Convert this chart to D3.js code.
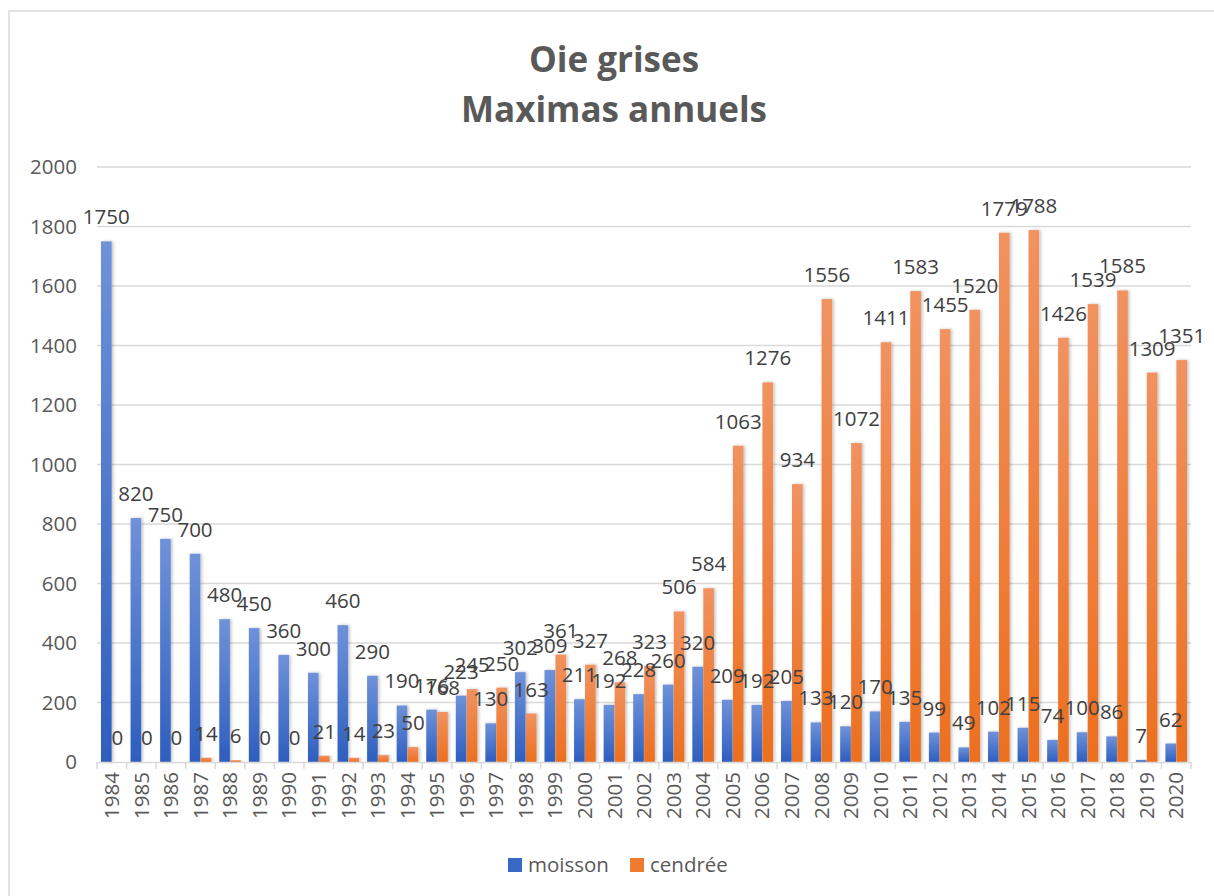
<!DOCTYPE html>
<html>
<head>
<meta charset="utf-8">
<script src="https://cdn.jsdelivr.net/npm/d3@7"></script>
<style>
  body { margin: 0; background: #fff; }
  svg text { font-family: "Open Sans", "Liberation Sans", sans-serif; }
</style>
</head>
<body>
<svg id="svg1" width="1214" height="896"></svg>
<script>
var years = ["1984","1985","1986","1987","1988","1989","1990","1991","1992","1993","1994","1995","1996","1997","1998","1999","2000","2001","2002","2003","2004","2005","2006","2007","2008","2009","2010","2011","2012","2013","2014","2015","2016","2017","2018","2019","2020"];
var moisson = [1750,820,750,700,480,450,360,300,460,290,190,176,223,130,302,309,211,192,228,260,320,209,192,205,133,120,170,135,99,49,102,115,74,100,86,7,62];
var cendree = [0,0,0,14,6,0,0,21,14,23,50,168,245,250,163,361,327,268,323,506,584,1063,1276,934,1556,1072,1411,1583,1455,1520,1779,1788,1426,1539,1585,1309,1351];
var seriesNames = ["moisson", "cendrée"];
var yTicks = [0,200,400,600,800,1000,1200,1400,1600,1800,2000];
var titleLines = ["Oie grises", "Maximas annuels"];

var svg = d3.select("#svg1");

// gradients for bars
var defs = svg.append("defs");
var grads = [["gBlue", "#6f92d9", "#2e5ebf"], ["gOrange", "#f19260", "#ec6f1f"]];
grads.forEach(function(g) {
  var lg = defs.append("linearGradient").attr("id", g[0])
    .attr("x1", 0).attr("y1", 0).attr("x2", 0).attr("y2", 1);
  lg.append("stop").attr("offset", "0%").attr("stop-color", g[1]);
  lg.append("stop").attr("offset", "100%").attr("stop-color", g[2]);
});
var colors = ["url(#gBlue)", "url(#gOrange)"];
var legendColors = ["#3a68c6", "#ef7a30"];
var fontSize = 20.5;

// chart frame
svg.append("rect")
  .attr("x", 9).attr("y", 11)
  .attr("width", 1220).attr("height", 900)
  .attr("fill", "none")
  .attr("stroke", "#d9d9d9")
  .attr("stroke-width", 1.5);

// title
svg.selectAll(".title")
  .data(titleLines)
  .enter()
  .append("text")
    .attr("class", "title")
    .attr("x", 614)
    .attr("y", function(d, i) { return 72 + i * 50; })
    .attr("text-anchor", "middle")
    .attr("font-size", 35)
    .attr("font-weight", "bold")
    .attr("fill", "#595959")
    .text(function(d) { return d; });

var plotLeft = 97, plotRight = 1191;
var scaleY = d3.scaleLinear().domain([0, 2000]).range([762, 167]);
var scaleX = d3.scaleBand().domain(years).range([plotLeft, plotRight]);
var scaleS = d3.scaleBand().domain([0, 1])
  .range([4, scaleX.bandwidth() - 4]).paddingInner(0.03);

// gridlines
svg.append("g")
  .selectAll("line")
  .data(yTicks.slice(1))
  .enter()
  .append("line")
    .attr("x1", plotLeft).attr("x2", plotRight)
    .attr("y1", function(d) { return scaleY(d); })
    .attr("y2", function(d) { return scaleY(d); })
    .attr("stroke", "#d9d9d9")
    .attr("stroke-width", 1.5);

// y axis labels
svg.append("g")
  .selectAll("text")
  .data(yTicks)
  .enter()
  .append("text")
    .attr("x", 77)
    .attr("y", function(d) { return scaleY(d); })
    .attr("dy", "0.35em")
    .attr("text-anchor", "end")
    .attr("font-size", fontSize)
    .attr("fill", "#595959")
    .text(function(d) { return d; });

// bars
var data = [moisson, cendree];
var filter = defs.append("filter").attr("id", "shadow")
  .attr("x", "-50%").attr("y", "-5%").attr("width", "200%").attr("height", "110%");
filter.append("feDropShadow").attr("dx", 1.5).attr("dy", 0).attr("stdDeviation", 1.5)
  .attr("flood-color", "#000").attr("flood-opacity", 0.25);

data.forEach(function(vals, s) {
  svg.append("g")
    .selectAll("rect")
    .data(vals)
    .enter()
    .append("rect")
      .attr("x", function(d, i) { return scaleX(years[i]) + scaleS(s); })
      .attr("width", scaleS.bandwidth())
      .attr("y", function(d) { return scaleY(d); })
      .attr("height", function(d) { return scaleY(0) - scaleY(d); })
      .attr("fill", colors[s])
      .attr("filter", "url(#shadow)");
});

// x axis
var axisX = svg.append("g")
  .attr("transform", "translate(0," + scaleY(0) + ")")
  .call(d3.axisBottom(scaleX).tickSize(0).tickFormat(""));
axisX.select(".domain").attr("stroke", "#d9d9d9").attr("stroke-width", 1.5);

svg.append("g")
  .selectAll("line")
  .data(years.concat(["end"]))
  .enter()
  .append("line")
    .attr("x1", function(d, i) { return plotLeft + i * scaleX.step(); })
    .attr("x2", function(d, i) { return plotLeft + i * scaleX.step(); })
    .attr("y1", scaleY(0)).attr("y2", scaleY(0) + 7)
    .attr("stroke", "#d9d9d9")
    .attr("stroke-width", 1.5);

svg.append("g")
  .selectAll("text")
  .data(years)
  .enter()
  .append("text")
    .attr("transform", function(d) {
      return "translate(" + (scaleX(d) + scaleX.bandwidth() / 2) + "," + (scaleY(0) + 10) + ") rotate(-90)";
    })
    .attr("dy", "0.35em")
    .attr("text-anchor", "end")
    .attr("font-size", fontSize)
    .attr("fill", "#595959")
    .text(function(d) { return d; });

// data labels
data.forEach(function(vals, s) {
  svg.append("g")
    .selectAll("text")
    .data(vals)
    .enter()
    .append("text")
      .attr("x", function(d, i) { return scaleX(years[i]) + scaleS(s) + scaleS.bandwidth() / 2; })
      .attr("y", function(d) { return scaleY(d) - 17; })
      .attr("text-anchor", "middle")
      .attr("font-size", fontSize)
      .attr("fill", "#404040")
      .text(function(d) { return d; });
});

// legend
var legend = svg.append("g").attr("transform", "translate(508,858)");
var legendX = [0, 122];
seriesNames.forEach(function(name, i) {
  var g = legend.append("g").attr("transform", "translate(" + legendX[i] + ",0)");
  g.append("rect").attr("width", 14).attr("height", 14).attr("fill", legendColors[i]);
  g.append("text")
    .attr("x", 20).attr("y", 7).attr("dy", "0.35em")
    .attr("font-size", fontSize)
    .attr("fill", "#595959")
    .text(name);
});
</script>
</body>
</html>
